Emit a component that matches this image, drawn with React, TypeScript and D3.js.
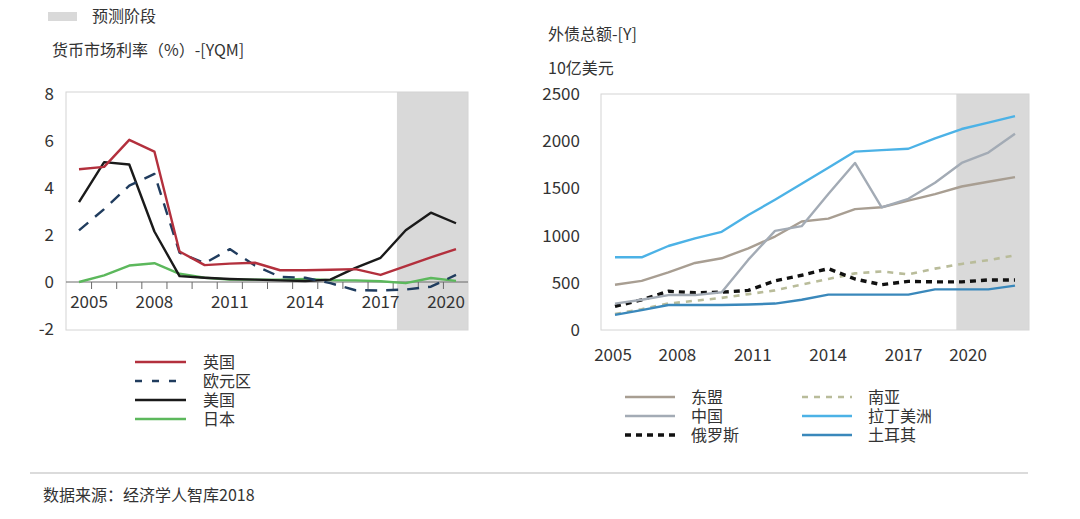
import React from 'react';
import * as d3 from 'd3';

const years = [2005, 2006, 2007, 2008, 2009, 2010, 2011, 2012, 2013, 2014, 2015, 2016, 2017, 2018, 2019, 2020];
const yearLabels = [2005, 2008, 2011, 2014, 2017, 2020];

// 货币市场利率 (%)
const ukRate = [4.8, 4.9, 6.05, 5.55, 1.3, 0.72, 0.78, 0.82, 0.5, 0.5, 0.52, 0.55, 0.3, 0.68, 1.05, 1.4];
const euroRate = [2.2, 3.1, 4.1, 4.6, 1.25, 0.8, 1.4, 0.7, 0.22, 0.18, -0.05, -0.35, -0.36, -0.32, -0.2, 0.3];
const usRate = [3.4, 5.1, 5.0, 2.15, 0.25, 0.18, 0.13, 0.1, 0.07, 0.04, 0.1, 0.6, 1.03, 2.2, 2.95, 2.5];
const jpRate = [0.0, 0.28, 0.7, 0.8, 0.35, 0.18, 0.1, 0.1, 0.1, 0.13, 0.08, 0.07, 0.03, -0.05, 0.17, 0.05];
const rateTicks = [-2, 0, 2, 4, 6, 8];

// 外债总额 (10亿美元)
const asean = [480, 520, 610, 710, 760, 865, 990, 1150, 1180, 1280, 1300, 1370, 1440, 1520, 1570, 1620];
const china = [280, 320, 370, 370, 400, 745, 1050, 1100, 1440, 1770, 1300, 1390, 1560, 1770, 1880, 2080];
const russia = [250, 320, 410, 395, 400, 420, 520, 580, 650, 540, 480, 515, 510, 510, 530, 530];
const southAsia = [170, 220, 280, 310, 340, 380, 420, 480, 540, 600, 620, 590, 650, 700, 740, 790];
const latam = [770, 770, 890, 970, 1040, 1218, 1380, 1549, 1719, 1890, 1905, 1920, 2030, 2129, 2196, 2266];
const turkey = [160, 210, 265, 265, 265, 270, 280, 320, 375, 375, 375, 375, 430, 430, 430, 470];
const debtTicks = [0, 500, 1000, 1500, 2000, 2500];

const FONT = '"Noto Sans CJK SC", "Noto Sans", sans-serif';
const TXT = '#333';
const TICK_FS = 17;
const TEXT_FS = 16;

type Series = { name: string; values: number[]; color: string; width: number; dash?: string };

const rateSeries: Series[] = [
  { name: '英国', values: ukRate, color: '#b3303d', width: 2.4 },
  { name: '欧元区', values: euroRate, color: '#203c5e', width: 2.4, dash: '12,9' },
  { name: '美国', values: usRate, color: '#1a1a1a', width: 2.4 },
  { name: '日本', values: jpRate, color: '#5cb85c', width: 2.4 },
];

const debtSeries: Series[] = [
  { name: '南亚', values: southAsia, color: '#b9bc9a', width: 2.6, dash: '6,6' },
  { name: '东盟', values: asean, color: '#a89e92', width: 2.4 },
  { name: '土耳其', values: turkey, color: '#3a88bb', width: 2.4 },
  { name: '俄罗斯', values: russia, color: '#111', width: 3.4, dash: '6,5' },
  { name: '中国', values: china, color: '#a3abb5', width: 2.4 },
  { name: '拉丁美洲', values: latam, color: '#4cb2e6', width: 2.4 },
];

const RateChart: React.FC = () => {
  const x = d3.scaleLinear().domain([2005, 2020]).range([79, 456]);
  const y = d3.scaleLinear().domain([-2, 8]).range([329, 94]);
  const box = { x0: 66, x1: 468, y0: y(8) - 2, y1: y(-2) + 1 };
  const shadeStart = x(2017.65);
  const line = d3.line<number>().x((_, i) => x(years[i])).y(d => y(d));
  const y0 = y(0);
  return (
    <g>
      <rect x={shadeStart} y={box.y0} width={box.x1 - shadeStart} height={box.y1 - box.y0} fill="#d9d9d9" />
      <rect x={box.x0} y={box.y0} width={box.x1 - box.x0} height={box.y1 - box.y0} fill="none" stroke="#d4d4d4" />
      <line x1={box.x0} x2={box.x1} y1={y0} y2={y0} stroke="#6a6a6a" />
      {years.slice(0, -1).map(yr => (
        <line key={yr} x1={x(yr + 0.5)} x2={x(yr + 0.5)} y1={y0} y2={y0 + 7} stroke="#6a6a6a" />
      ))}
      {rateTicks.map(t => (
        <text key={t} x={54} y={y(t)} dy="0.33em" textAnchor="end" fontSize={TICK_FS} fill={TXT}>{t}</text>
      ))}
      {yearLabels.map((yr, i) => (
        <text key={yr} x={x(yr) + (i === 0 ? 10 : i === yearLabels.length - 1 ? -10 : 0)} y={302} dy="0.35em"
          textAnchor="middle" fontSize={TICK_FS} fill={TXT}>{yr}</text>
      ))}
      {rateSeries.slice().reverse().map(s => (
        <path key={s.name} d={line(s.values) || ''} fill="none" stroke={s.color} strokeWidth={s.width}
          strokeDasharray={s.dash} strokeLinejoin="round" />
      ))}
      {rateSeries.map((s, i) => {
        const ly = 362 + i * 19;
        return (
          <g key={s.name}>
            <line x1={135} x2={186} y1={ly} y2={ly} stroke={s.color} strokeWidth={2.6}
              strokeDasharray={s.dash ? '7,10' : undefined} />
            <text x={203} y={ly} dy="0.35em" fontSize={TEXT_FS} fill={TXT}>{s.name}</text>
          </g>
        );
      })}
    </g>
  );
};

const DebtChart: React.FC = () => {
  const x = d3.scaleLinear().domain([2005, 2020]).range([615, 1015]);
  const xLab = d3.scaleLinear().domain([2005, 2020]).range([602, 979]);
  const y = d3.scaleLinear().domain([0, 2500]).range([330, 94]);
  const box = { x0: 601, x1: 1029, y0: y(2500), y1: y(0) };
  const shadeStart = x(2017.8);
  const line = d3.line<number>().x((_, i) => x(years[i])).y(d => y(d));
  const legendOrder = [
    { s: debtSeries[1], col: 0, row: 0 },
    { s: debtSeries[4], col: 0, row: 1 },
    { s: debtSeries[3], col: 0, row: 2 },
    { s: debtSeries[0], col: 1, row: 0 },
    { s: debtSeries[5], col: 1, row: 1 },
    { s: debtSeries[2], col: 1, row: 2 },
  ];
  return (
    <g>
      <rect x={shadeStart} y={box.y0} width={box.x1 - shadeStart} height={box.y1 - box.y0} fill="#d9d9d9" />
      <rect x={box.x0} y={box.y0} width={box.x1 - box.x0} height={box.y1 - box.y0} fill="none" stroke="#d4d4d4" />
      {debtTicks.map(t => (
        <text key={t} x={580} y={y(t)} dy="0.35em" textAnchor="end" fontSize={TICK_FS} fill={TXT}>{t}</text>
      ))}
      {yearLabels.map((yr, i) => (
        <text key={yr} x={xLab(yr) + (i === 0 ? 11 : i === yearLabels.length - 1 ? -11 : 0)} y={355} dy="0.35em"
          textAnchor="middle" fontSize={TICK_FS} fill={TXT}>{yr}</text>
      ))}
      {debtSeries.map(s => (
        <path key={s.name} d={line(s.values) || ''} fill="none" stroke={s.color} strokeWidth={s.width}
          strokeDasharray={s.dash} strokeLinejoin="round" />
      ))}
      {legendOrder.map(({ s, col, row }) => {
        const lx = col === 0 ? 625 : 802;
        const ly = 397 + row * 19;
        return (
          <g key={s.name}>
            <line x1={lx} x2={lx + 50} y1={ly} y2={ly} stroke={s.color} strokeWidth={s.dash ? s.width : 2.6}
              strokeDasharray={s.dash} />
            <text x={lx + 66} y={ly} dy="0.35em" fontSize={TEXT_FS} fill={TXT}>{s.name}</text>
          </g>
        );
      })}
    </g>
  );
};

export default function App() {
  return (
    <svg width={1080} height={519} style={{ position: 'fixed', left: 0, top: 0, background: '#fff' }}
      fontFamily={FONT}>
      <rect width={1080} height={519} fill="#fff" />
      <rect x={48} y={12} width={29} height={9} fill="#d9d9d9" />
      <text x={92} y={16} dy="0.35em" fontSize={TEXT_FS} fill={TXT}>预测阶段</text>
      <text x={52} y={50} dy="0.35em" fontSize={TEXT_FS} fill={TXT}>货币市场利率（%）-[YQM]</text>
      <text x={548} y={34} dy="0.35em" fontSize={TEXT_FS} fill={TXT}>外债总额-[Y]</text>
      <text x={548} y={68} dy="0.35em" fontSize={TEXT_FS} fill={TXT}>10亿美元</text>
      <RateChart />
      <DebtChart />
      <line x1={30} x2={1028} y1={473} y2={473} stroke="#cfcfcf" strokeWidth={1.5} />
      <text x={43} y={495} dy="0.35em" fontSize={TEXT_FS} fill={TXT}>数据来源：经济学人智库2018</text>
    </svg>
  );
}
